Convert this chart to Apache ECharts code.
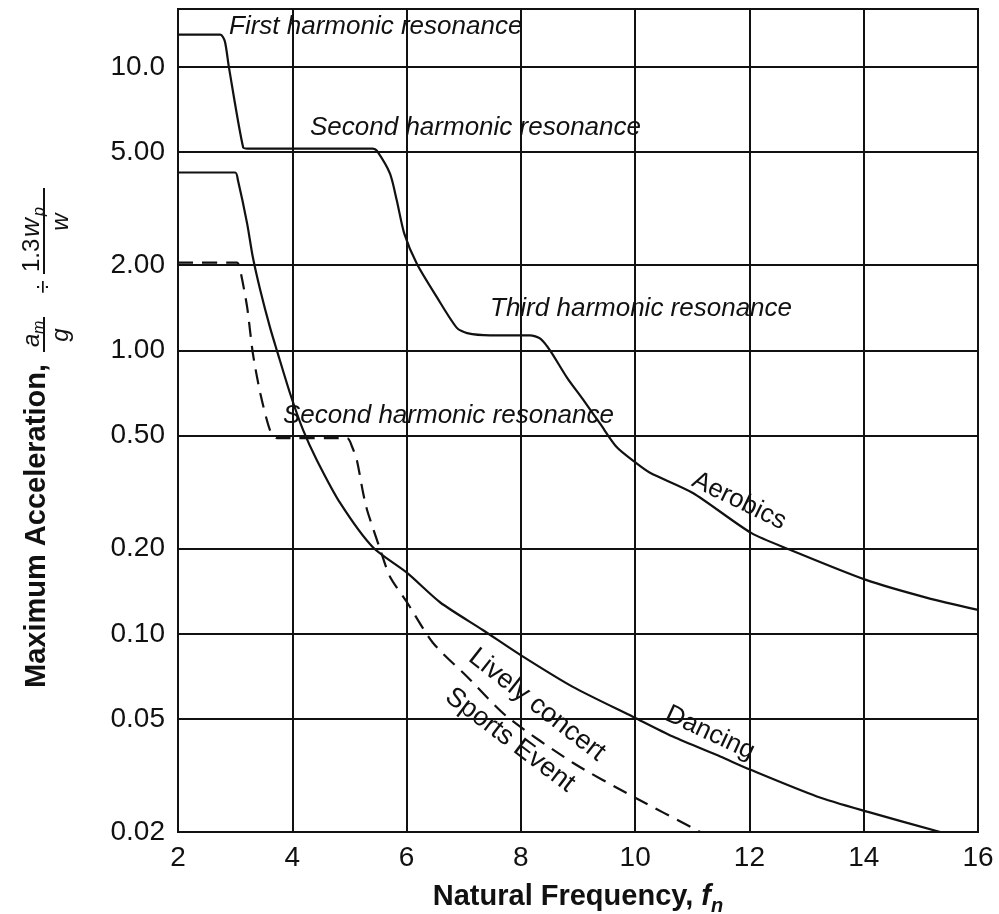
<!DOCTYPE html>
<html><head><meta charset="utf-8">
<script src="https://cdn.jsdelivr.net/npm/echarts@6/dist/echarts.min.js"></script>
<style>html,body{margin:0;padding:0;background:#fff}#c{width:999px;height:914px}</style>
</head><body><div id="c"></div>
<script>
// ---- data ----
const xTicks = [2, 4, 6, 8, 10, 12, 14, 16];
const yTicks = [0.02, 0.05, 0.1, 0.2, 0.5, 1, 2, 5, 10];
const yTickLabels = ['0.02', '0.05', '0.10', '0.20', '0.50', '1.00', '2.00', '5.00', '10.0'];

const aerobicsX = [2, 2.74, 2.82, 2.89, 3.14, 3.22, 5.41, 5.48, 5.71, 5.83, 5.96, 6.18, 6.53, 6.88, 7.06, 7.46, 8.16, 8.34, 8.51, 8.81, 9.09, 9.39, 9.68, 10.02, 10.26, 11.01, 12.03, 12.71, 14.04, 15.11, 16];
const aerobicsY = [13.0, 13.0, 12.3, 10.0, 5.2, 5.15, 5.15, 5.06, 4.2, 3.37, 2.58, 2.02, 1.54, 1.2, 1.15, 1.13, 1.13, 1.10, 1.0, 0.80, 0.67, 0.55, 0.455, 0.40, 0.37, 0.314, 0.227, 0.198, 0.155, 0.134, 0.1215];

const dancingX = [2, 3.0, 3.05, 3.21, 3.31, 3.44, 3.61, 3.73, 3.96, 4.19, 4.43, 4.84, 5.41, 6.01, 6.59, 7.34, 7.99, 8.91, 9.96, 10.66, 11.49, 12.01, 13.18, 14.06, 15.34];
const dancingY = [4.24, 4.24, 3.97, 2.80, 2.13, 1.63, 1.205, 1.0, 0.706, 0.523, 0.41, 0.289, 0.202, 0.164, 0.129, 0.103, 0.0843, 0.065, 0.051, 0.0434, 0.0369, 0.0332, 0.0267, 0.0236, 0.02];

const concertX = [2, 3.03, 3.09, 3.21, 3.31, 3.44, 3.61, 3.73, 4.96, 5.05, 5.13, 5.24, 5.31, 5.54, 5.71, 6.01, 6.46, 7.06, 7.76, 8.91, 9.96, 11.14];
const concertY = [2.04, 2.04, 1.91, 1.42, 0.976, 0.706, 0.523, 0.49, 0.49, 0.455, 0.41, 0.314, 0.273, 0.198, 0.159, 0.129, 0.093, 0.0706, 0.051, 0.0351, 0.0267, 0.02];

const seriesNames = ['Aerobics', 'Dancing', 'Lively concert / Sports Event'];
const xAxisTitle = 'Natural Frequency, ';
const yAxisTitle = 'Maximum Acceleration,';

// ---- chart ----
const zip = (xs, ys) => xs.map((x, i) => [x, ys[i]]);
const INK = '#111';
const FONT = '"Liberation Sans", Arial, Helvetica, sans-serif';
const chart = echarts.init(document.getElementById('c'), null, { renderer: 'canvas' });

function yFmt(v) {
  for (let i = 0; i < yTicks.length; i++) {
    if (Math.abs(v - yTicks[i]) / yTicks[i] < 1e-6) return yTickLabels[i];
  }
  return '';
}

const deg = Math.PI / 180;
function note(text, x, y) {
  return {
    type: 'text', x: x, y: y, z: 100,
    style: {
      text: text, fill: INK, fontFamily: FONT, fontSize: 26, fontStyle: 'italic',
      align: 'left', verticalAlign: 'middle'
    }
  };
}
function curveLabel(text, x, y, angle, size) {
  return {
    type: 'text', x: x, y: y, rotation: -angle * deg, z: 100,
    style: {
      text: text, fill: INK, fontFamily: FONT, fontSize: size,
      align: 'center', verticalAlign: 'middle'
    }
  };
}
function t(text, u, v, size, style, align) {
  return {
    type: 'text', x: u, y: v,
    style: { text: text, fill: INK, fontFamily: FONT, fontSize: size, fontStyle: style || 'normal',
      align: align || 'left', verticalAlign: 'middle' }
  };
}
function bar(u1, u2, v) {
  return { type: 'line', shape: { x1: u1, y1: v, x2: u2, y2: v }, style: { stroke: INK, lineWidth: 2 } };
}

const SMOOTH = 0.25;
const option = {
  backgroundColor: '#fff',
  animation: false,
  grid: {
    left: 178, right: 21, top: 9, bottom: 82,
    show: true, borderColor: INK, borderWidth: 2, backgroundColor: 'transparent',
    containLabel: false, outerBoundsMode: 'none'
  },
  xAxis: {
    type: 'value', min: 2, max: 16, interval: 2,
    axisLine: { show: true, lineStyle: { color: INK, width: 2 } },
    axisTick: { show: false },
    axisLabel: { color: INK, fontSize: 28, fontFamily: FONT, margin: 12,
      formatter: v => (xTicks.indexOf(v) >= 0 ? String(v) : '') },
    splitLine: { show: true, lineStyle: { color: INK, width: 2 } },
    name: xAxisTitle + '{f|f}{n|n}',
    nameLocation: 'middle', nameGap: 46,
    nameTextStyle: {
      color: INK, fontSize: 29, fontWeight: 'bold', fontFamily: FONT,
      rich: {
        f: { fontSize: 29, fontWeight: 'bold', fontStyle: 'italic', fontFamily: FONT, color: INK },
        n: { fontSize: 20, fontStyle: 'italic', fontFamily: FONT, color: INK, verticalAlign: 'bottom', lineHeight: 38 }
      }
    }
  },
  yAxis: {
    type: 'log', logBase: 10, min: 0.02, max: 16,
    axisLine: { show: true, lineStyle: { color: INK, width: 2 } },
    axisTick: { show: false, customValues: yTicks },
    axisLabel: { customValues: yTicks, formatter: yFmt, color: INK, fontSize: 28, fontFamily: FONT, margin: 13 },
    splitLine: { show: true, lineStyle: { color: INK, width: 2 } },
    minorTick: { show: false }, minorSplitLine: { show: false }
  },
  series: [
    { name: seriesNames[0], type: 'line', data: zip(aerobicsX, aerobicsY), showSymbol: false, smooth: SMOOTH,
      lineStyle: { color: INK, width: 2.2 }, z: 5 },
    { name: seriesNames[1], type: 'line', data: zip(dancingX, dancingY), showSymbol: false, smooth: SMOOTH,
      lineStyle: { color: INK, width: 2.2 }, z: 5 },
    { name: seriesNames[2], type: 'line', data: zip(concertX, concertY), showSymbol: false, smooth: SMOOTH,
      lineStyle: { color: INK, width: 2.2, type: [15, 9] }, z: 5 }
  ],
  graphic: [
    note('First harmonic resonance', 229, 27),
    note('Second harmonic resonance', 310, 128),
    note('Third harmonic resonance', 490, 309),
    note('Second harmonic resonance', 283, 416),
    curveLabel('Aerobics', 739, 501, 26, 26),
    curveLabel('Dancing', 710, 733, 25, 26),
    curveLabel('Lively concert', 537, 705, 38, 27),
    curveLabel('Sports Event', 510, 740, 37, 27),
    {
      type: 'group', x: 47, y: 688, rotation: Math.PI / 2,
      children: [
        { type: 'text', x: 0, y: -10, style: { text: yAxisTitle, fill: INK, fontFamily: FONT, fontSize: 29, fontWeight: 'bold', align: 'left', verticalAlign: 'middle' } },
        t('a', 341, -15, 24, 'italic'),
        t('m', 354, -7, 16, 'italic'),
        bar(336, 371, -3),
        t('g', 353, 14, 24, 'italic', 'center'),
        t('÷', 401, -3, 24, 'normal', 'center'),
        t('1.3', 416, -15, 24),
        t('w', 451, -15, 26, 'italic'),
        t('p', 472, -7, 16, 'italic'),
        bar(414, 500, -3),
        t('w', 466, 14, 24, 'italic', 'center')
      ]
    }
  ]
};
chart.setOption(option);
</script>
</body></html>
